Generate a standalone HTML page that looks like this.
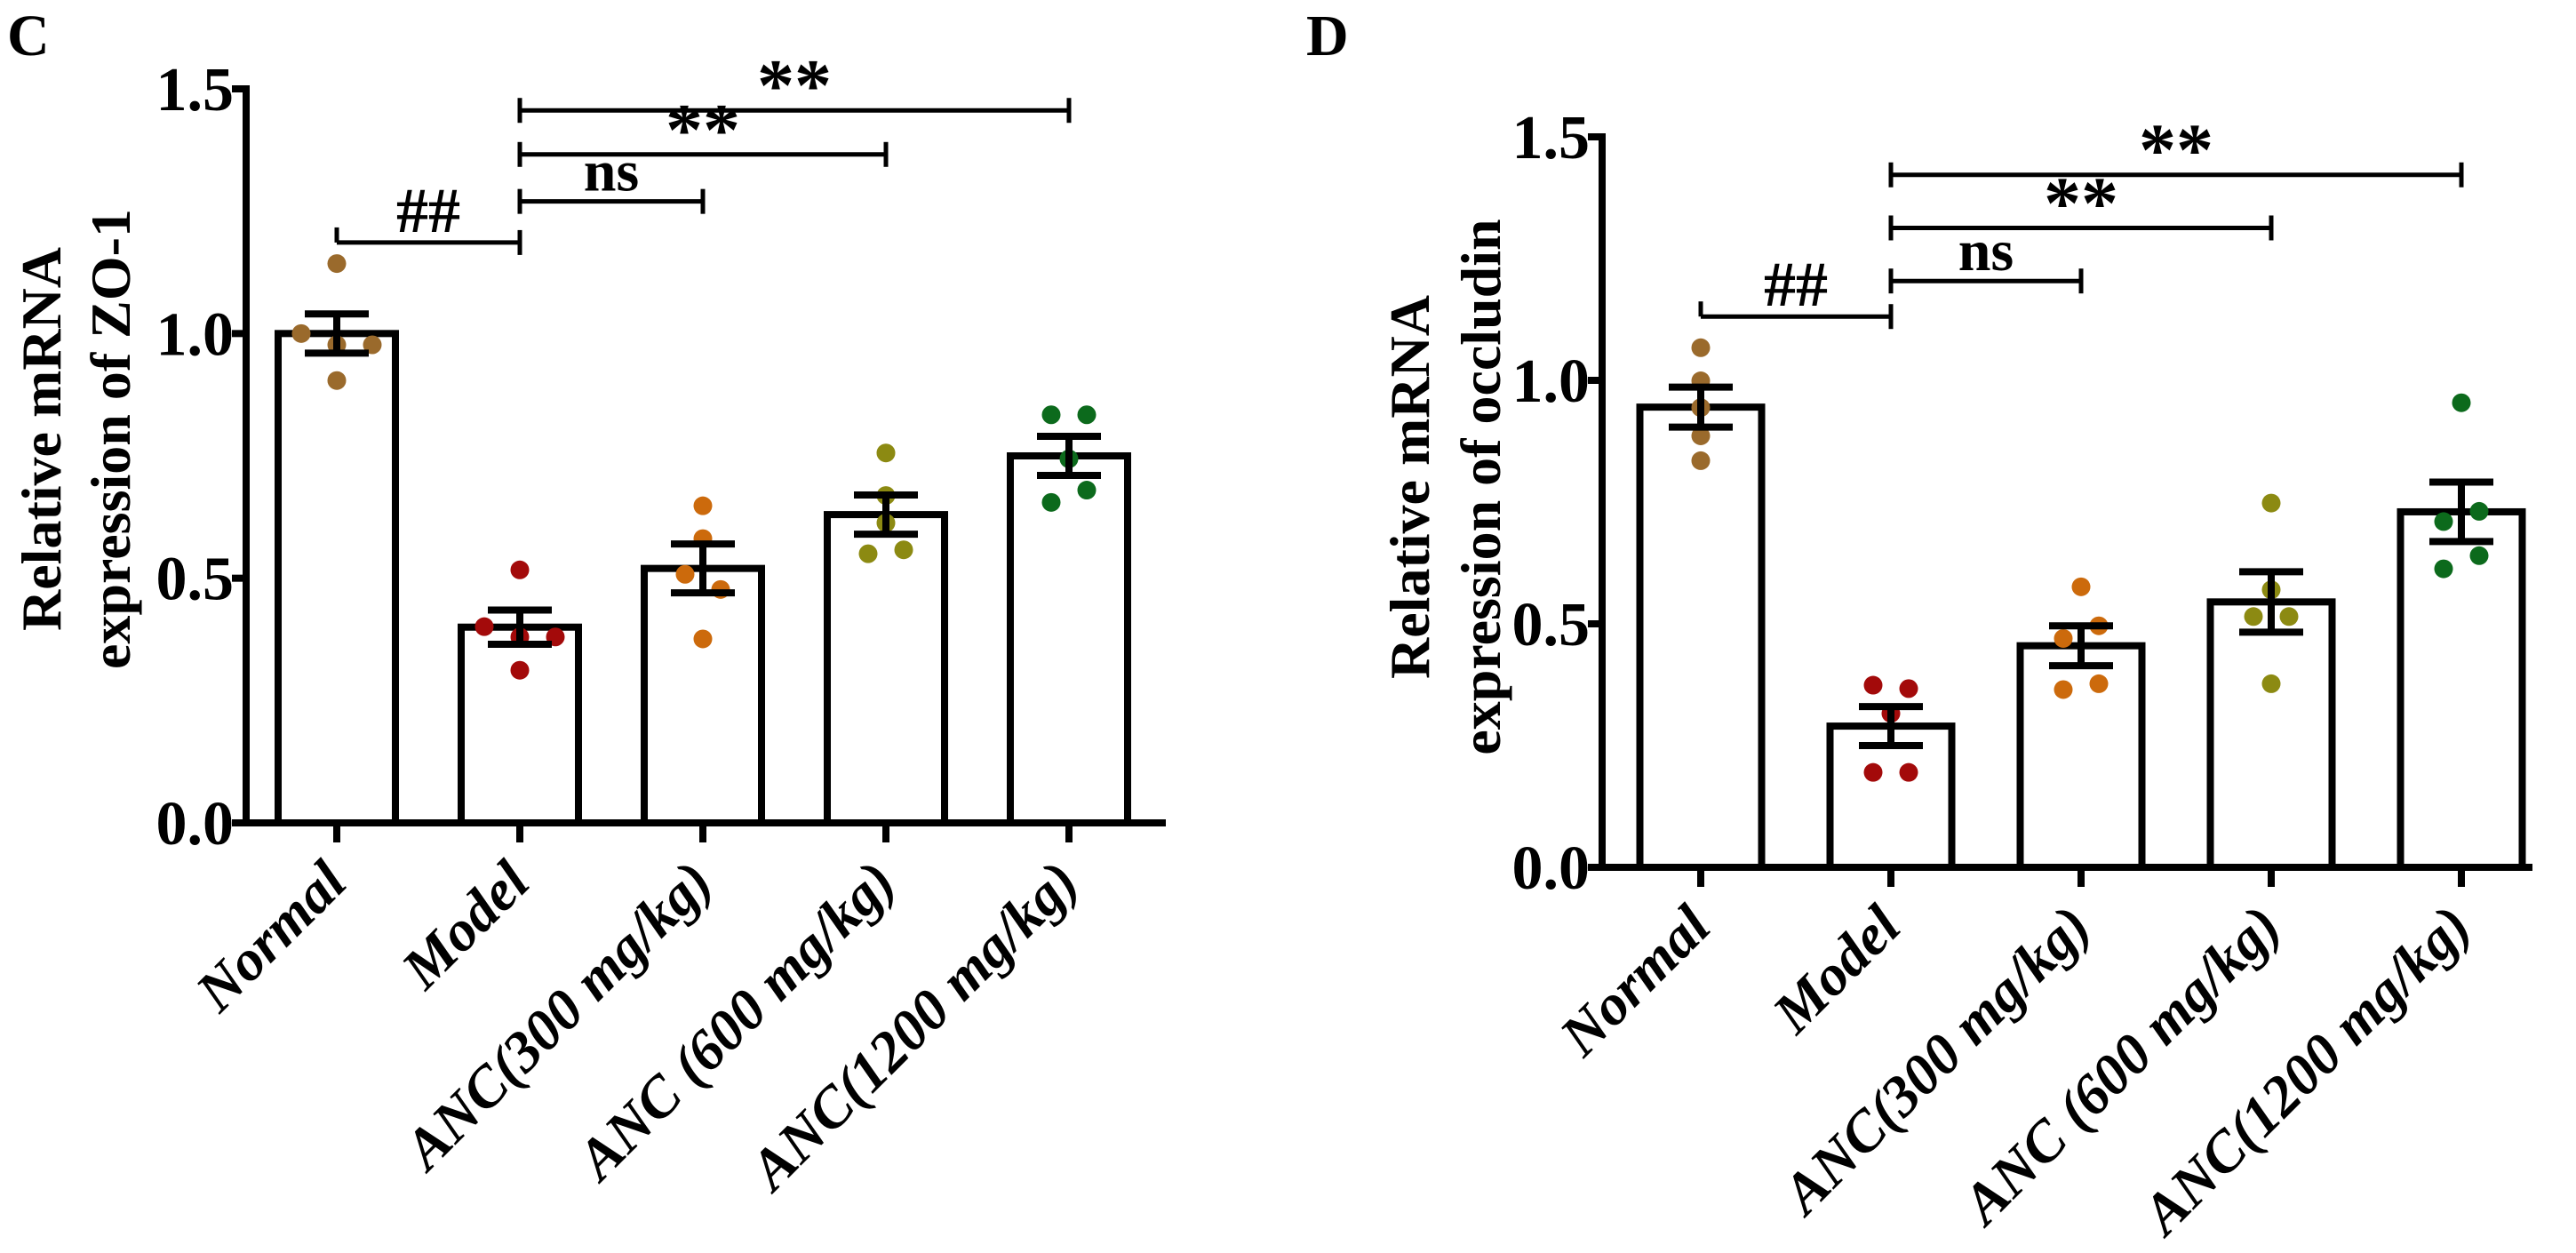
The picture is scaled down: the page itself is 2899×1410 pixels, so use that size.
<!DOCTYPE html>
<html><head><meta charset="utf-8"><style>
body{margin:0;background:#fff}
svg{display:block}
svg text{font-family:"Liberation Serif","Times New Roman","DejaVu Serif",serif;font-weight:bold;fill:#000}
</style></head><body>
<svg id="fig" width="2899" height="1410" viewBox="0 0 2899 1410" xmlns="http://www.w3.org/2000/svg" font-family="Liberation Serif, serif" font-weight="bold">
<text x="8" y="62" font-size="66">C</text>
<text x="1470" y="62" font-size="66">D</text>
</svg>
<script>
const categories = ["Normal","Model","ANC(300 mg/kg)","ANC (600 mg/kg)","ANC(1200 mg/kg)"];
const colors = ["#9a6a2c","#a30a0a","#cc6a0c","#8c8a12","#0c6a1c"];
const yTicks = [0, 0.5, 1.0, 1.5];
const yTickLabels = ["0.0","0.5","1.0","1.5"];
// Panel C (ZO-1)
const zoMeans = [1.0, 0.40, 0.52, 0.63, 0.75];
const zoSem = [0.04, 0.035, 0.05, 0.04, 0.04];
const zoPoints = [
  [1.143, 1.0, 0.977, 0.977, 0.904],
  [0.517, 0.401, 0.380, 0.380, 0.312],
  [0.648, 0.581, 0.508, 0.477, 0.376],
  [0.756, 0.669, 0.613, 0.550, 0.558],
  [0.834, 0.834, 0.744, 0.655, 0.680]
];
const zoJitter = [[0,-1,0,1,0],[0,-1,0,1,0],[0,0,-0.5,0.5,0],[0,0,0,-0.5,0.5],[-0.5,0.5,0,-0.5,0.5]];
const zoSig = [[0,1,1.186,"##"],[1,2,1.27,"ns"],[1,3,1.366,"**"],[1,4,1.456,"**"]];
// Panel D (occludin)
const ocMeans = [0.945, 0.29, 0.455, 0.545, 0.73];
const ocSem = [0.041, 0.04, 0.041, 0.062, 0.061];
const ocPoints = [
  [1.067, 0.999, 0.944, 0.886, 0.835],
  [0.374, 0.367, 0.316, 0.195, 0.195],
  [0.576, 0.470, 0.496, 0.365, 0.377],
  [0.748, 0.570, 0.515, 0.515, 0.377],
  [0.954, 0.731, 0.710, 0.640, 0.613]
];
const ocJitter = [[0,0,0,0,0],[-0.5,0.5,0,-0.5,0.5],[0,-0.5,0.5,-0.5,0.5],[0,0,-0.5,0.5,0],[0,0.5,-0.5,0.5,-0.5]];
const ocSig = [[0,1,1.131,"##"],[1,2,1.204,"ns"],[1,3,1.313,"**"],[1,4,1.422,"**"]];

const NS="http://www.w3.org/2000/svg";
const svg=document.getElementById('fig');
function mk(tag,attrs,parent){const e=document.createElementNS(NS,tag);for(const k in attrs)e.setAttribute(k,attrs[k]);(parent||svg).appendChild(e);return e;}

function panel(cfg){
  const {name,axX,y0,y15,x0,step,xEnd,bw,means,sem,points,jitter,sig,title1,title2,tx1,tx2,ty}=cfg;
  const g=mk('g',{});
  
  
  const ys=v=>y0-(v/1.5)*(y0-y15);
  const xs=i=>x0+i*step;
  means.forEach((m,i)=>{
    const r=mk('rect',{x:xs(i)-bw/2,y:ys(m),width:bw,height:y0-ys(m),fill:'#fff',stroke:'#000','stroke-width':8},g);
    
    
  });
  points.forEach((arr,i)=>arr.forEach((v,j)=>{
    const c=mk('circle',{cx:xs(i)+jitter[i][j]*40,cy:ys(v),r:10.5,fill:colors[i]},g);
    
    
  }));
  means.forEach((m,i)=>{
    const eg=mk('g',{stroke:'#000','stroke-width':8},g);
    
    
    const x=xs(i);
    mk('line',{x1:x,x2:x,y1:ys(m+sem[i]),y2:ys(m-sem[i])},eg);
    mk('line',{x1:x-36,x2:x+36,y1:ys(m+sem[i]),y2:ys(m+sem[i])},eg);
    mk('line',{x1:x-36,x2:x+36,y1:ys(m-sem[i]),y2:ys(m-sem[i])},eg);
  });
  const ax=mk('g',{stroke:'#000','stroke-width':8},g);
  
  
  mk('line',{x1:axX,x2:axX,y1:ys(1.5)-4,y2:y0+4},ax);
  mk('line',{x1:axX-12,x2:xEnd,y1:y0,y2:y0},ax);
  yTicks.forEach((t,k)=>{
    mk('line',{x1:axX-16,x2:axX,y1:ys(t),y2:ys(t)},ax);
    const tl=mk('text',{x:axX-14,y:ys(t)+24,'font-size':70,'text-anchor':'end'},g);
    tl.textContent=yTickLabels[k];
    
    
  });
  categories.forEach((c,i)=>{
    mk('line',{x1:xs(i),x2:xs(i),y1:y0,y2:y0+22},ax);
    const lx=xs(i)+14, ly=y0+70;
    const t=mk('text',{x:lx,y:ly,'font-size':65,'font-style':'italic','text-anchor':'end',transform:`rotate(-45 ${lx} ${ly})`},g);
    t.textContent=c;
    
    
  });
  sig.forEach(([a,b,v,lab],k)=>{
    const sg=mk('g',{},g);
    
    
    const y=ys(v), xa=xs(a), xb=xs(b);
    mk('line',{x1:xa,x2:xb,y1:y,y2:y,stroke:'#000','stroke-width':5},sg);
    mk('line',{x1:xa,x2:xa,y1:y-(k==0?17:14),y2:y+(k==0?0:14),stroke:'#000','stroke-width':5},sg);
    mk('line',{x1:xb,x2:xb,y1:y-14,y2:y+14,stroke:'#000','stroke-width':5},sg);
    const fs = lab=='**'?84:(lab=='##'?72:66);
    const t=mk('text',{x:(xa+xb)/2,y:y-(lab=='**'?0:12),'font-size':fs,'text-anchor':'middle'},sg);
    t.textContent=lab;
  });
  const t1=mk('text',{x:0,y:0,'font-size':64,'text-anchor':'middle',transform:`translate(${tx1},${ty}) rotate(-90)`},g);
  t1.textContent=title1;
  
  
  const t2=mk('text',{x:0,y:0,'font-size':64,'text-anchor':'middle',transform:`translate(${tx2},${ty}) rotate(-90)`},g);
  t2.textContent=title2;
  
  
}
panel({name:'chart-zo1',axX:277,y0:926,y15:100,x0:379,step:206,xEnd:1312,bw:132,means:zoMeans,sem:zoSem,points:zoPoints,jitter:zoJitter,sig:zoSig,
  title1:'Relative mRNA',title2:'expression of ZO-1',tx1:68,tx2:146,ty:494});
panel({name:'chart-occludin',axX:1803,y0:976,y15:154,x0:1914,step:214,xEnd:2850,bw:137,means:ocMeans,sem:ocSem,points:ocPoints,jitter:ocJitter,sig:ocSig,
  title1:'Relative mRNA',title2:'expression of occludin',tx1:1608,tx2:1688,ty:548});
</script>
</body></html>
